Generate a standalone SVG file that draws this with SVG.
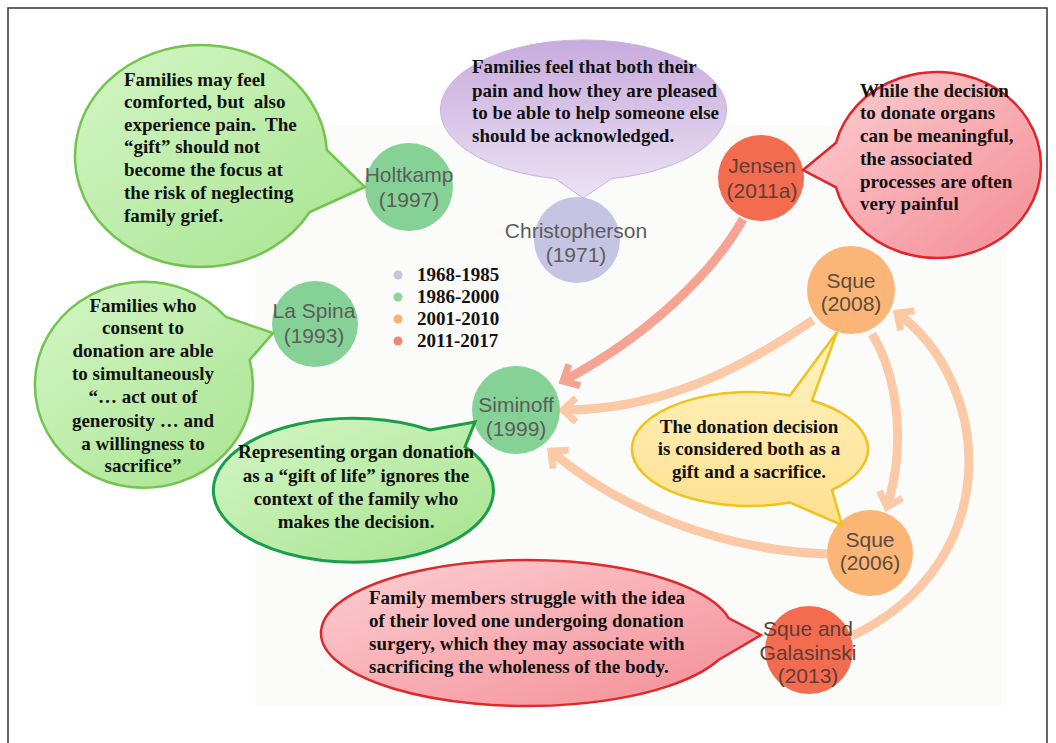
<svg xmlns="http://www.w3.org/2000/svg" width="1056" height="743" viewBox="0 0 1056 743">
<defs>
<style>
.bt{font-family:"Liberation Serif","Times New Roman",serif;font-weight:bold;font-size:19px;fill:#111}
.c{text-anchor:middle}
.pre{white-space:pre}
.nl{font-family:"Liberation Sans",Arial,sans-serif;font-size:21px;fill:#5c5c5c;text-anchor:middle}
.nr{fill:#5e3d36}
.no{fill:#5e4a3e}
.gn{fill:#86d296}
.pu{fill:#c6c4e3}
.rd{fill:#f36c4f}
.or{fill:#fbb677}
.con{fill:none;stroke-width:9}
.pe{stroke:#fcc9a6}
.sa{stroke:#f6a393}
</style>
<linearGradient id="gG" x1="0" y1="0" x2="1" y2="1"><stop offset="0" stop-color="#d4f6c6"/><stop offset="1" stop-color="#a6e38e"/></linearGradient>
<linearGradient id="gP" x1="0" y1="0" x2="0" y2="1"><stop offset="0" stop-color="#c8abde"/><stop offset="1" stop-color="#ebe1f3"/></linearGradient>
<linearGradient id="gR" x1="0" y1="0" x2="1" y2="1"><stop offset="0" stop-color="#fcd0d3"/><stop offset="1" stop-color="#f48c94"/></linearGradient>
<linearGradient id="gY" x1="0" y1="0" x2="0" y2="1"><stop offset="0" stop-color="#fff3c4"/><stop offset="1" stop-color="#fde08e"/></linearGradient>
<marker id="mPe" markerUnits="userSpaceOnUse" markerWidth="30" markerHeight="30" viewBox="0 0 30 30" refX="18" refY="15" orient="auto"><path d="M5 3 L18 15 L5 27" fill="none" stroke="#fcc9a6" stroke-width="7"/></marker>
<marker id="mSa" markerUnits="userSpaceOnUse" markerWidth="30" markerHeight="30" viewBox="0 0 30 30" refX="18" refY="15" orient="auto"><path d="M5 3 L18 15 L5 27" fill="none" stroke="#f6a393" stroke-width="7"/></marker>
</defs>
<rect x="0" y="0" width="1056" height="743" fill="#ffffff"/>
<rect x="255" y="125" width="751" height="580" fill="#fbfbf9"/>
<rect x="8" y="8" width="1039" height="760" fill="none" stroke="#333" stroke-width="1.5"/>

<g id="connectors">
<path class="con sa" d="M743 219 C715 270 650 335 563 381" marker-end="url(#mSa)"/>
<path class="con pe" d="M813 320 C740 370 660 410 563 410" marker-end="url(#mPe)"/>
<path class="con pe" d="M828 554 C720 550 620 510 551 451" marker-end="url(#mPe)"/>
<path class="con pe" d="M872 334 C900 380 905 450 887 507" marker-end="url(#mPe)"/>
<path class="con pe" d="M852 636 C1010 560 990 380 897 313" marker-end="url(#mPe)"/>
</g>

<g id="legend">
<circle cx="398" cy="275" r="4.5" fill="#c9c5de"/>
<circle cx="398" cy="297" r="4.5" fill="#8fd49b"/>
<circle cx="398" cy="319" r="4.5" fill="#f9b272"/>
<circle cx="398" cy="341" r="4.5" fill="#f4876f"/>
<text class="bt" x="417" y="281">1968-1985</text>
<text class="bt" x="417" y="303">1986-2000</text>
<text class="bt" x="417" y="325">2001-2010</text>
<text class="bt" x="417" y="347">2011-2017</text>
</g>

<g id="holtkamp"><circle class="gn" cx="409" cy="187" r="44"/><text class="nl" x="409" y="182">Holtkamp</text><text class="nl" x="409" y="207">(1997)</text></g>
<g id="christopherson"><circle class="pu" cx="577" cy="240" r="43"/><text class="nl" x="576" y="238">Christopherson</text><text class="nl" x="576" y="262">(1971)</text></g>
<g id="jensen"><circle class="rd" cx="761" cy="178" r="43"/><text class="nl nr" x="762" y="173">Jensen</text><text class="nl nr" x="762" y="198">(2011a)</text></g>
<g id="laspina"><circle class="gn" cx="315" cy="324" r="43"/><text class="nl" x="314" y="318">La Spina</text><text class="nl" x="314" y="343">(1993)</text></g>
<g id="siminoff"><circle class="gn" cx="516" cy="410" r="44"/><text class="nl" x="516" y="412">Siminoff</text><text class="nl" x="516" y="436">(1999)</text></g>
<g id="sque2008"><circle class="or" cx="851" cy="290" r="44"/><text class="nl no" x="851" y="288">Sque</text><text class="nl no" x="851" y="311">(2008)</text></g>
<g id="sque2006"><circle class="or" cx="870" cy="553" r="43"/><text class="nl no" x="870" y="547">Sque</text><text class="nl no" x="870" y="570">(2006)</text></g>
<g id="squegalasinski"><circle class="rd" cx="809" cy="650" r="44"/><text class="nl nr" x="808" y="636">Sque and</text><text class="nl nr" x="808" y="660">Galasinski</text><text class="nl nr" x="808" y="683">(2013)</text></g>

<g id="bubble-holtkamp">
<path d="M309.8 212 A126 111 0 1 1 326.8 150 L365 187 Z" fill="url(#gG)" stroke="#72c44e" stroke-width="2.5"/>
<text class="bt pre" x="124"><tspan x="124" y="86">Families may feel</tspan><tspan x="124" y="108">comforted, but  also</tspan><tspan x="124" y="131">experience pain.  The</tspan><tspan x="124" y="153">“gift” should not</tspan><tspan x="124" y="176">become the focus at</tspan><tspan x="124" y="199">the risk of neglecting</tspan><tspan x="124" y="222">family grief.</tspan></text>
</g>
<g id="bubble-christopherson">
<path d="M612 178.5 A143 70 0 1 0 555 178.5 L583 198 Z" fill="url(#gP)" stroke="#c9b3df" stroke-width="1"/>
<text class="bt"><tspan x="472" y="73">Families feel that both their</tspan><tspan x="472" y="97">pain and how they are pleased</tspan><tspan x="472" y="119">to be able to help someone else</tspan><tspan x="472" y="142">should be acknowledged.</tspan></text>
</g>
<g id="bubble-jensen">
<path d="M836 142.7 A104 93 0 1 1 836 187.3 L803 170 Z" fill="url(#gR)" stroke="#e3232a" stroke-width="2.5"/>
<text class="bt"><tspan x="860" y="97">While the decision</tspan><tspan x="860" y="119">to donate organs</tspan><tspan x="860" y="142">can be meaningful,</tspan><tspan x="860" y="165">the associated</tspan><tspan x="860" y="188">processes are often</tspan><tspan x="860" y="210">very painful</tspan></text>
</g>
<g id="bubble-laspina">
<path d="M249.7 360 A109 103 0 1 1 226 317 L273 333 Z" fill="url(#gG)" stroke="#72c44e" stroke-width="2.5"/>
<text class="bt c"><tspan x="143" y="312">Families who</tspan><tspan x="143" y="334">consent to</tspan><tspan x="143" y="357">donation are able</tspan><tspan x="143" y="380">to simultaneously</tspan><tspan x="143" y="403">“… act out of</tspan><tspan x="143" y="427">generosity … and</tspan><tspan x="143" y="450">a willingness to</tspan><tspan x="143" y="472">sacrifice”</tspan></text>
</g>
<g id="bubble-siminoff">
<path d="M465 446.8 A140 72 0 1 1 430 430 L475 422 Z" fill="url(#gG)" stroke="#1a9e4a" stroke-width="3"/>
<text class="bt c"><tspan x="356" y="458">Representing organ donation</tspan><tspan x="356" y="482">as a “gift of life” ignores the</tspan><tspan x="356" y="505">context of the family who</tspan><tspan x="356" y="528">makes the decision.</tspan></text>
</g>
<g id="bubble-sque">
<path d="M790 395.4 L837 332 L812 400.5 A118 57 0 0 1 832 490 L842 525 L790 502.6 A118 57 0 1 1 790 395.4 Z" fill="url(#gY)" stroke="#f0c21c" stroke-width="2.5"/>
<text class="bt c"><tspan x="749" y="433">The donation decision</tspan><tspan x="749" y="455">is considered both as a</tspan><tspan x="749" y="478">gift and a sacrifice.</tspan></text>
</g>
<g id="bubble-squegalasinski">
<path d="M728.6 618 A206 73 0 1 0 718.4 660 L761 635 Z" fill="url(#gR)" stroke="#e0282c" stroke-width="2.5"/>
<text class="bt"><tspan x="369" y="604">Family members struggle with the idea</tspan><tspan x="369" y="627">of their loved one undergoing donation</tspan><tspan x="369" y="650">surgery, which they may associate with</tspan><tspan x="369" y="673">sacrificing the wholeness of the body.</tspan></text>
</g>
</svg>
